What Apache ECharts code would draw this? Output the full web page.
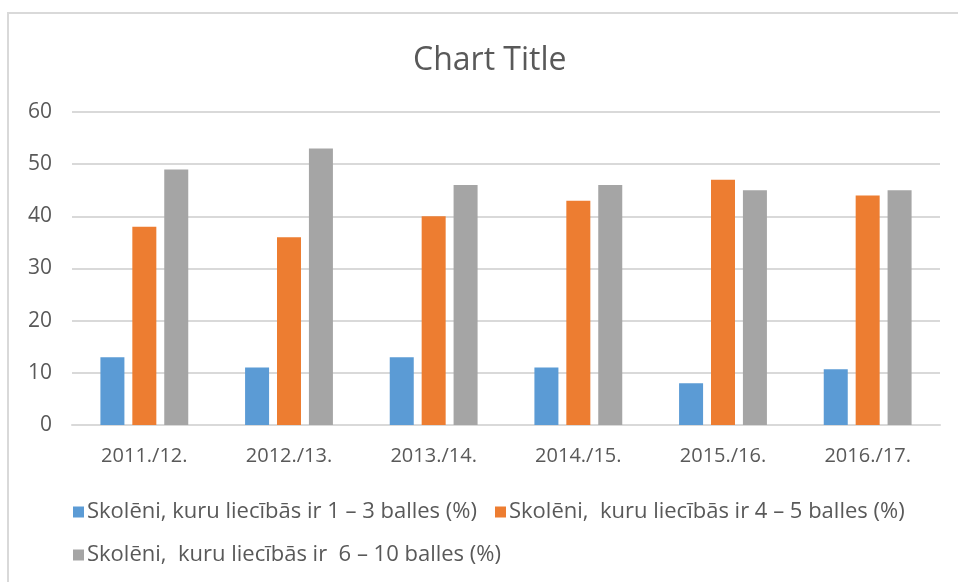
<!DOCTYPE html>
<html>
<head>
<meta charset="utf-8">
<script src="https://cdn.jsdelivr.net/npm/echarts@6/dist/echarts.min.js"></script>
<style>
  html, body { margin: 0; padding: 0; background: #fff; }
  #chart { width: 958px; height: 582px; }
</style>
</head>
<body>
<div id="chart"></div>
<script>
var years = ['2011./12.', '2012./13.', '2013./14.', '2014./15.', '2015./16.', '2016./17.'];
var names = [
    'Skolēni, kuru liecībās ir 1 – 3 balles (%)',
    'Skolēni,  kuru liecībās ir 4 – 5 balles (%)',
    'Skolēni,  kuru liecībās ir  6 – 10 balles (%)'
];
var low = [13, 11, 13, 11, 8, 10.7];
var mid = [38, 36, 40, 43, 47, 44];
var high = [49, 53, 46, 46, 45, 45];

var font = 'Open Sans';
var txt = '#595959';

var chart = echarts.init(document.getElementById('chart'));

function bar(name, data) {
    return { name: name, type: 'bar', data: data, barWidth: 24, barGap: '33%' };
}

var option = {
    animation: false,
    color: ['#5b9bd5', '#ed7d31', '#a5a5a5'],
    textStyle: { fontFamily: font },
    graphic: [{
        type: 'rect',
        shape: { x: 8, y: 13, width: 1000, height: 1000 },
        style: { fill: 'none', stroke: '#d9d9d9', lineWidth: 2 }
    }],
    title: {
        text: 'Chart Title',
        left: 408,
        top: 40,
        textStyle: { fontFamily: font, fontSize: 32, fontWeight: 'normal', color: txt }
    },
    legend: [{
        data: [names[0], names[1]],
        left: 68,
        top: 496,
        itemWidth: 11,
        itemHeight: 11,
        itemGap: 18,
        icon: 'rect',
        textStyle: { fontFamily: font, fontSize: 22, color: txt, padding: [0, 0, 0, -2] }
    }, {
        data: [names[2]],
        left: 68,
        top: 539,
        itemWidth: 11,
        itemHeight: 11,
        icon: 'rect',
        textStyle: { fontFamily: font, fontSize: 22, color: txt, padding: [0, 0, 0, -2] }
    }],
    grid: { left: 72, right: 18, top: 112, bottom: 157, containLabel: false },
    xAxis: {
        type: 'category',
        data: years,
        axisTick: { show: false },
        axisLine: { lineStyle: { color: '#d9d9d9', width: 2 } },
        axisLabel: { fontFamily: font, fontSize: 20, color: txt, margin: 21 }
    },
    yAxis: {
        type: 'value',
        min: 0,
        max: 60,
        interval: 10,
        axisLine: { show: false },
        axisTick: { show: false },
        splitLine: { lineStyle: { color: '#d9d9d9', width: 2 } },
        axisLabel: { fontFamily: font, fontSize: 21, color: txt, margin: 20 }
    },
    series: [bar(names[0], low), bar(names[1], mid), bar(names[2], high)]
};

chart.setOption(option);
</script>
</body>
</html>
